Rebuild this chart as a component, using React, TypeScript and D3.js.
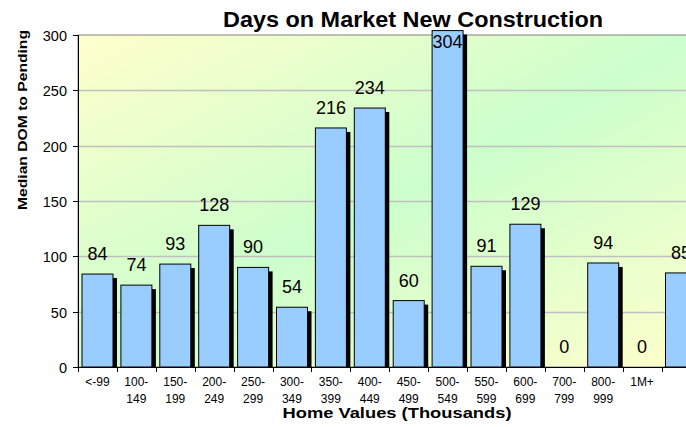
import React, { useEffect, useRef } from 'react'
import * as d3 from 'd3'

const categories = ['<-99', '100-149', '150-199', '200-249', '250-299', '300-349', '350-399', '400-449', '450-499', '500-549', '550-599', '600-699', '700-799', '800-999', '1M+', '']
const values = [84, 74, 93, 128, 90, 54, 216, 234, 60, 304, 91, 129, 0, 94, 0, 85]
const yTicks = [0, 50, 100, 150, 200, 250, 300]

const W = 686
const H = 427
const FONT = 'Arial, "Liberation Sans", sans-serif'

const App: React.FC = () => {
  const svgRef = useRef<SVGSVGElement>(null)

  useEffect(() => {
    if (!svgRef.current) return
    const svg = d3.select(svgRef.current)
    svg.selectAll('*').remove()

    const left = 78
    const top = 35
    const bottom = 367
    const band = 38.9
    const right = left + band * categories.length

    const x = d3.scaleBand<string>()
      .domain(categories.map((c, i) => i + ''))
      .range([left, right])
      .paddingInner(0)
    const y = d3.scaleLinear().domain([0, 300]).range([bottom, top])

    const defs = svg.append('defs')
    const grad = defs.append('linearGradient')
      .attr('id', 'bg')
      .attr('x1', 0).attr('y1', 0).attr('x2', 1).attr('y2', 1)
    grad.append('stop').attr('offset', '0%').attr('stop-color', '#FFFFCC')
    grad.append('stop').attr('offset', '50%').attr('stop-color', '#CCFFCC')
    grad.append('stop').attr('offset', '100%').attr('stop-color', '#FFFFCC')

    // plot area
    svg.append('rect')
      .attr('x', left).attr('y', top)
      .attr('width', right - left).attr('height', bottom - top)
      .attr('fill', 'url(#bg)')
      .attr('stroke', '#808080')
      .attr('stroke-width', 1)

    // gridlines
    svg.append('g')
      .selectAll('line')
      .data(yTicks.filter(t => t > 0 && t < 300))
      .enter()
      .append('line')
      .attr('x1', left).attr('x2', right)
      .attr('y1', d => Math.round(y(d)) + 0.5).attr('y2', d => Math.round(y(d)) + 0.5)
      .attr('stroke', '#C0C0C0')
      .attr('stroke-width', 1.5)

    const bw = 31
    const off = 4
    const bars = svg.append('g')
    categories.forEach((c, i) => {
      const v = values[i]
      if (v <= 0) return
      const bx = (x(i + '') as number) + 4
      const by = y(v)
      // shadow
      bars.append('rect')
        .attr('x', bx + off).attr('y', by + off)
        .attr('width', bw).attr('height', bottom - by - off)
        .attr('fill', '#000')
      bars.append('rect')
        .attr('x', bx).attr('y', by)
        .attr('width', bw).attr('height', bottom - by)
        .attr('fill', '#99CCFF')
        .attr('stroke', '#000')
        .attr('stroke-width', 1)
    })

    // value labels
    svg.append('g')
      .selectAll('text')
      .data(values)
      .enter()
      .append('text')
      .attr('x', (d, i) => (x(i + '') as number) + 4 + bw / 2)
      .attr('y', d => Math.max(y(d) - 14, 48))
      .attr('text-anchor', 'middle')
      .style('font-family', FONT)
      .style('font-size', '18px')
      .attr('fill', '#000')
      .text(d => d)

    // axes
    svg.append('line')
      .attr('x1', left + 0.5).attr('x2', left + 0.5)
      .attr('y1', top).attr('y2', bottom)
      .attr('stroke', '#000')
    svg.append('line')
      .attr('x1', left).attr('x2', right)
      .attr('y1', bottom + 0.5).attr('y2', bottom + 0.5)
      .attr('stroke', '#000')

    const yAxis = svg.append('g')
    yTicks.forEach(t => {
      const ty = Math.round(y(t)) + 0.5
      yAxis.append('line')
        .attr('x1', left - 5).attr('x2', left)
        .attr('y1', ty).attr('y2', ty)
        .attr('stroke', '#000')
      yAxis.append('text')
        .attr('x', left - 11).attr('y', ty + 5)
        .attr('text-anchor', 'end')
        .style('font-family', FONT)
        .style('font-size', '14.5px')
        .text(t)
    })

    const xAxis = svg.append('g')
    for (let i = 0; i <= categories.length; i++) {
      const tx = Math.round(left + band * i) + 0.5
      xAxis.append('line')
        .attr('x1', tx).attr('x2', tx)
        .attr('y1', bottom).attr('y2', bottom + 5)
        .attr('stroke', '#000')
    }
    categories.forEach((c, i) => {
      const cx = (x(i + '') as number) + band / 2
      const parts = c.includes('-') && !c.startsWith('<') ? [c.split('-')[0] + '-', c.split('-')[1]] : [c]
      parts.forEach((p, j) => {
        xAxis.append('text')
          .attr('x', cx).attr('y', 386 + j * 17)
          .attr('text-anchor', 'middle')
          .style('font-family', FONT)
          .style('font-size', '12px')
          .text(p)
      })
    })

    // titles
    svg.append('text')
      .attr('x', 413).attr('y', 27)
      .attr('text-anchor', 'middle')
      .attr('textLength', 380)
      .attr('lengthAdjust', 'spacingAndGlyphs')
      .style('font-family', FONT)
      .style('font-size', '22px')
      .style('font-weight', 'bold')
      .text('Days on Market New Construction')

    svg.append('text')
      .attr('x', 397).attr('y', 418)
      .attr('text-anchor', 'middle')
      .attr('textLength', 229)
      .attr('lengthAdjust', 'spacingAndGlyphs')
      .style('font-family', FONT)
      .style('font-size', '15px')
      .style('font-weight', 'bold')
      .text('Home Values (Thousands)')

    svg.append('text')
      .attr('transform', 'translate(27,120) rotate(-90)')
      .attr('text-anchor', 'middle')
      .attr('textLength', 180)
      .attr('lengthAdjust', 'spacingAndGlyphs')
      .style('font-family', FONT)
      .style('font-size', '13px')
      .style('font-weight', 'bold')
      .text('Median DOM to Pending')
  }, [])

  return (
    <svg
      ref={svgRef}
      width={W}
      height={H}
      style={{ position: 'fixed', left: 0, top: 0, background: '#fff' }}
    />
  )
}

export default App
